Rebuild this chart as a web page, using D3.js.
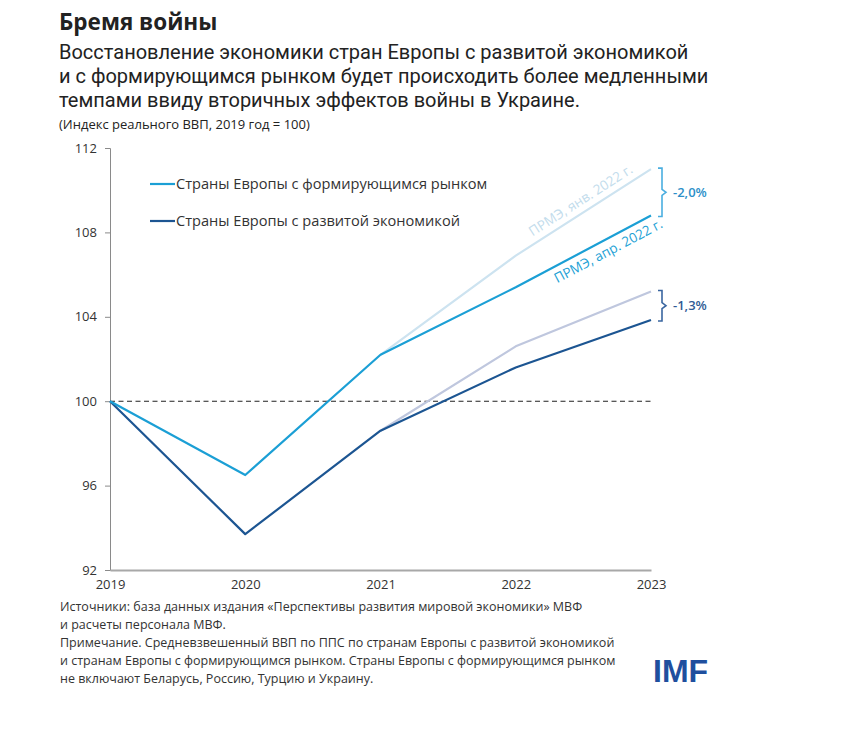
<!DOCTYPE html>
<html>
<head>
<meta charset="utf-8">
<script src="https://cdn.jsdelivr.net/npm/d3@7"></script>
<style>
  body { margin: 0; background: #fff; }
  text { font-family: "Open Sans", sans-serif; }
</style>
</head>
<body>
<div id="chart"></div>
<script>
// Data
const years = [2019, 2020, 2021, 2022, 2023];
const emergingApr = [100, 96.5, 102.2, 105.4, 108.8];
const advancedApr = [100, 93.7, 98.6, 101.6, 103.85];
// January 2022 forecasts start from 2021
const janYears = [2021, 2022, 2023];
const emergingJan = [102.2, 106.9, 111.0];
const advancedJan = [98.6, 102.6, 105.2];
const yTicks = [92, 96, 100, 104, 108, 112];

const legendNames = ["Страны Европы с формирующимся рынком", "Страны Европы с развитой экономикой"];
const gaps = ["-2,0%", "-1,3%"];

const colors = {
  emApr: "#1b9fd5",
  emJan: "#cde3f0",
  adApr: "#1c5592",
  adJan: "#bfc7de"
};

const W = 847, H = 731;
const margin = { top: 148, right: 196, bottom: 161, left: 110 };
const width = W - margin.left - margin.right,
      height = H - margin.top - margin.bottom;

const svg = d3.select("#chart").append("svg")
    .attr("width", W)
    .attr("height", H);

svg.append("rect").attr("width", W).attr("height", H).attr("fill", "#fff");

// Titles
svg.append("text")
    .attr("x", 59).attr("y", 30)
    .style("font-size", "22.5px").style("font-weight", "bold").attr("fill", "#222")
    .text("Бремя войны");

const subtitle = [
  "Восстановление экономики стран Европы с развитой экономикой",
  "и с формирующимся рынком будет происходить более медленными",
  "темпами ввиду вторичных эффектов войны в Украине."
];
svg.selectAll("text.sub").data(subtitle).enter().append("text")
    .attr("class", "sub")
    .attr("x", 59).attr("y", (d, i) => 59 + i * 24)
    .style("font-family", "Roboto, sans-serif")
    .style("font-size", "20px").attr("fill", "#222")
    .text(d => d);

svg.append("text")
    .attr("x", 59).attr("y", 129)
    .style("font-size", "13px").attr("fill", "#222")
    .text("(Индекс реального ВВП, 2019 год = 100)");

const g = svg.append("g")
    .attr("transform", "translate(" + margin.left + "," + margin.top + ")");

const x = d3.scaleLinear().domain([2019, 2023]).range([0, width]);
const y = d3.scaleLinear().domain([92, 112]).range([height, 0]);

// Y axis
const yAxis = g.append("g")
    .call(d3.axisLeft(y).tickValues(yTicks).tickSize(5).tickPadding(8));
yAxis.select(".domain").attr("stroke", "#8a8a8a");
yAxis.selectAll(".tick line").attr("stroke", "#8a8a8a");
yAxis.selectAll(".tick text")
    .style("font-size", "13px").style("font-family", "Open Sans").attr("fill", "#333");

// X axis
const xAxis = g.append("g")
    .attr("transform", "translate(0," + height + ")")
    .call(d3.axisBottom(x).tickValues(years).tickFormat(d3.format("d")).tickSize(0).tickPadding(10));
xAxis.select(".domain").attr("stroke", "#a8a8a8").attr("stroke-width", 2);
xAxis.selectAll(".tick text")
    .style("font-size", "13px").style("font-family", "Open Sans").attr("fill", "#333");

// Reference line at 100
g.append("line")
    .attr("x1", 0).attr("x2", width)
    .attr("y1", y(100)).attr("y2", y(100))
    .attr("stroke", "#222").attr("stroke-width", 1.1)
    .attr("stroke-dasharray", "5,3.5");

const line = d3.line().x(d => x(d[0])).y(d => y(d[1]));

const series = [
  { xs: janYears, ys: emergingJan, c: colors.emJan },
  { xs: janYears, ys: advancedJan, c: colors.adJan },
  { xs: years, ys: advancedApr, c: colors.adApr },
  { xs: years, ys: emergingApr, c: colors.emApr }
];
series.forEach(s => {
  g.append("path")
      .datum(s.xs.map((v, i) => [v, s.ys[i]]))
      .attr("fill", "none")
      .attr("stroke", s.c)
      .attr("stroke-width", 2.2)
      .attr("stroke-linejoin", "round")
      .attr("d", line);
});

// Line labels along the last segment
function slopeAngle(ys) {
  const n = ys.length;
  const dx = x(2023) - x(2022), dy = y(ys[n - 1]) - y(ys[n - 2]);
  return Math.atan2(dy, dx) * 180 / Math.PI;
}
const labels = [
  { t: "ПРМЭ, янв. 2022 г.", ys: emergingJan, c: "#c2dcec", off: -7, at: 587 },
  { t: "ПРМЭ, апр. 2022 г.", ys: emergingApr, c: "#1b9fd5", off: 16, at: 603 }
];
labels.forEach(l => {
  const n = l.ys.length;
  const lx = l.at - margin.left;
  const ly = y(l.ys[n - 2]) + (y(l.ys[n - 1]) - y(l.ys[n - 2])) * ((lx - x(2022)) / (x(2023) - x(2022)));
  g.append("text")
      .attr("transform", "translate(" + lx + "," + ly + ") rotate(" + slopeAngle(l.ys) + ") translate(0," + l.off + ")")
      .attr("text-anchor", "middle")
      .style("font-size", "13.5px").attr("fill", l.c)
      .text(l.t);
});

// Brackets showing the forecast revision
const brackets = [
  { top: emergingJan[emergingJan.length - 1], bottom: emergingApr[emergingApr.length - 1], c: "#4aaee0", tc: "#2b8fc9", t: gaps[0] },
  { top: advancedJan[advancedJan.length - 1], bottom: advancedApr[advancedApr.length - 1], c: "#3a66a0", tc: "#2f5b95", t: gaps[1] }
];
brackets.forEach(b => {
  const bx = x(2023) + 7, y0 = y(b.top) - 1, y1 = y(b.bottom) + 1, ym = (y0 + y1) / 2;
  g.append("path")
      .attr("d", `M${bx},${y0} H${bx + 4} V${ym - 3} L${bx + 8},${ym} L${bx + 4},${ym + 3} V${y1} H${bx}`)
      .attr("fill", "none").attr("stroke", b.c).attr("stroke-width", 1.6);
  g.append("text")
      .attr("x", bx + 15).attr("y", ym).attr("dy", "0.35em")
      .style("font-size", "13px").style("font-weight", "600").attr("fill", b.tc)
      .text(b.t);
});

// Legend
const legend = g.selectAll("g.legend").data(legendNames).enter().append("g")
    .attr("class", "legend")
    .attr("transform", (d, i) => "translate(40," + (36 + i * 37) + ")");
legend.append("line")
    .attr("x1", 0).attr("x2", 25)
    .attr("stroke", (d, i) => i === 0 ? colors.emApr : colors.adApr)
    .attr("stroke-width", 2.2);
legend.append("text")
    .attr("x", 26).attr("dy", "0.35em")
    .style("font-size", "14.6px").attr("fill", "#333")
    .text(d => d);

// Footnotes
const notes = [
  "Источники: база данных издания «Перспективы развития мировой экономики» МВФ",
  "и расчеты персонала МВФ.",
  "Примечание. Средневзвешенный ВВП по ППС по странам Европы с развитой экономикой",
  "и странам Европы с формирующимся рынком. Страны Европы с формирующимся рынком",
  "не включают Беларусь, Россию, Турцию и Украину."
];
svg.selectAll("text.note").data(notes).enter().append("text")
    .attr("class", "note")
    .attr("x", 60).attr("y", (d, i) => 611 + i * 18)
    .style("font-size", "12.5px").attr("fill", "#333")
    .text(d => d);

// IMF logo
svg.append("text")
    .attr("x", 653).attr("y", 682)
    .style("font-family", "Liberation Sans, Arial, sans-serif")
    .style("font-size", "32px").style("font-weight", "bold")
    .attr("fill", "#1f4f9e")
    .text("IMF");
</script>
</body>
</html>
